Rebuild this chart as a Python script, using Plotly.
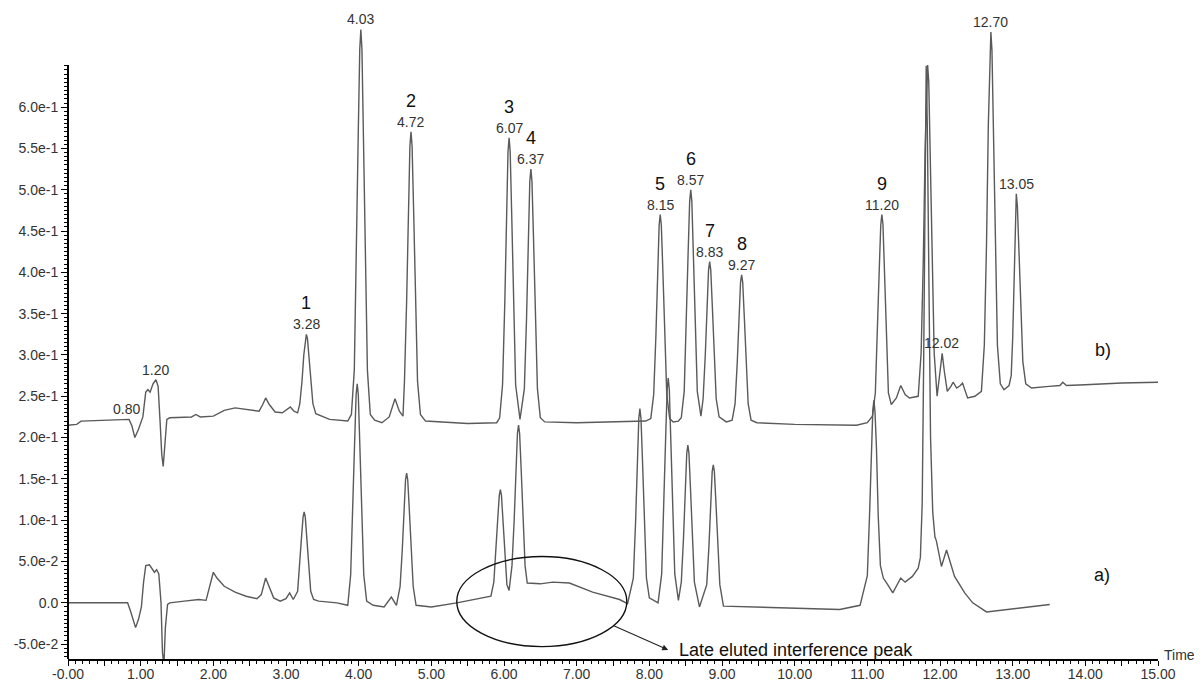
import plotly.graph_objects as go

# ---------------- data ----------------
# trace b) (upper chromatogram): time (min) and signal
b_time = [0.00, 0.12, 0.18, 0.50, 0.84, 0.88, 0.92, 0.97, 1.03, 1.07,
          1.10, 1.13, 1.17, 1.21, 1.24, 1.27, 1.29, 1.31, 1.33, 1.36,
          1.40, 1.70, 1.76, 1.82, 2.00, 2.15, 2.30, 2.50, 2.63, 2.68,
          2.72, 2.77, 2.85, 2.95, 3.02, 3.06, 3.11, 3.16, 3.19, 3.22,
          3.245, 3.265, 3.28, 3.295, 3.315, 3.34, 3.37, 3.41, 3.60, 3.85,
          3.90, 3.94, 3.97, 3.995, 4.015, 4.03, 4.045, 4.065, 4.09, 4.12,
          4.16, 4.22, 4.32, 4.42, 4.50, 4.56, 4.61, 4.63, 4.66, 4.685,
          4.705, 4.72, 4.735, 4.755, 4.78, 4.81, 4.85, 4.92, 5.50, 5.90,
          5.94, 5.98, 6.01, 6.035, 6.055, 6.07, 6.085, 6.105, 6.13, 6.16,
          6.22, 6.28, 6.31, 6.335, 6.355, 6.37, 6.385, 6.405, 6.43, 6.46,
          6.50, 6.56, 7.00, 7.50, 7.95, 8.02, 8.06, 8.09, 8.115, 8.135,
          8.15, 8.165, 8.185, 8.21, 8.24, 8.28, 8.33, 8.40, 8.44, 8.48,
          8.51, 8.535, 8.555, 8.57, 8.585, 8.605, 8.63, 8.66, 8.71, 8.74,
          8.77, 8.795, 8.815, 8.83, 8.845, 8.865, 8.89, 8.92, 8.96, 9.06,
          9.14, 9.18, 9.21, 9.235, 9.255, 9.27, 9.285, 9.305, 9.33, 9.36,
          9.40, 9.48, 10.00, 10.50, 10.85, 11.00, 11.07, 11.11, 11.14, 11.165,
          11.185, 11.20, 11.215, 11.235, 11.26, 11.29, 11.33, 11.40, 11.46, 11.52,
          11.58, 11.70, 11.74, 11.77, 11.795, 11.815, 11.83, 11.845, 11.865, 11.89,
          11.92, 11.96, 12.00, 12.03, 12.06, 12.10, 12.15, 12.18, 12.23, 12.28,
          12.31, 12.38, 12.48, 12.57, 12.61, 12.64, 12.665, 12.685, 12.70, 12.715,
          12.735, 12.76, 12.79, 12.83, 12.88, 12.95, 12.98, 13.00, 13.025, 13.04,
          13.05, 13.065, 13.085, 13.11, 13.14, 13.18, 13.26, 13.50, 13.65, 13.69,
          13.74, 14.00, 14.50, 15.00]
b_signal = [0.215, 0.216, 0.220, 0.221, 0.222, 0.214, 0.200, 0.210, 0.225, 0.255,
            0.258, 0.255, 0.265, 0.270, 0.262, 0.215, 0.180, 0.165, 0.190, 0.222,
            0.224, 0.225, 0.228, 0.225, 0.226, 0.233, 0.236, 0.234, 0.232, 0.240,
            0.248, 0.240, 0.231, 0.230, 0.234, 0.237, 0.232, 0.230, 0.241, 0.268,
            0.300, 0.320, 0.325, 0.320, 0.300, 0.268, 0.241, 0.229, 0.222, 0.220,
            0.228, 0.282, 0.415, 0.571, 0.670, 0.694, 0.670, 0.571, 0.415, 0.282,
            0.228, 0.221, 0.218, 0.225, 0.247, 0.232, 0.226, 0.268, 0.365, 0.480,
            0.553, 0.570, 0.553, 0.480, 0.365, 0.268, 0.228, 0.220, 0.217, 0.218,
            0.224, 0.264, 0.360, 0.474, 0.546, 0.563, 0.546, 0.474, 0.360, 0.264,
            0.222, 0.259, 0.344, 0.445, 0.510, 0.525, 0.510, 0.445, 0.344, 0.259,
            0.224, 0.219, 0.218, 0.219, 0.220, 0.223, 0.252, 0.322, 0.405, 0.457,
            0.470, 0.457, 0.405, 0.322, 0.252, 0.223, 0.219, 0.220, 0.224, 0.256,
            0.335, 0.427, 0.486, 0.500, 0.486, 0.427, 0.335, 0.256, 0.226, 0.247,
            0.300, 0.363, 0.403, 0.413, 0.403, 0.363, 0.300, 0.247, 0.225, 0.219,
            0.221, 0.241, 0.291, 0.350, 0.388, 0.397, 0.388, 0.350, 0.291, 0.241,
            0.221, 0.218, 0.216, 0.215, 0.215, 0.218, 0.226, 0.254, 0.324, 0.406,
            0.458, 0.470, 0.458, 0.406, 0.324, 0.254, 0.240, 0.248, 0.263, 0.252,
            0.248, 0.250, 0.302, 0.414, 0.547, 0.631, 0.651, 0.631, 0.547, 0.414,
            0.302, 0.250, 0.280, 0.302, 0.280, 0.256, 0.262, 0.267, 0.260, 0.263,
            0.266, 0.248, 0.250, 0.256, 0.312, 0.434, 0.578, 0.669, 0.691, 0.669,
            0.578, 0.434, 0.312, 0.265, 0.258, 0.263, 0.275, 0.320, 0.420, 0.480,
            0.495, 0.480, 0.434, 0.358, 0.292, 0.265, 0.260, 0.262, 0.263, 0.267,
            0.263, 0.264, 0.266, 0.267]

# trace a) (lower chromatogram)
a_time = [0.00, 0.82, 0.86, 0.93, 0.97, 1.01, 1.04, 1.07, 1.12, 1.16,
          1.19, 1.22, 1.25, 1.28, 1.30, 1.32, 1.34, 1.37, 1.40, 1.60,
          1.80, 1.90, 1.95, 2.00, 2.05, 2.15, 2.30, 2.45, 2.60, 2.66,
          2.72, 2.77, 2.83, 2.92, 3.00, 3.05, 3.10, 3.16, 3.19, 3.215,
          3.235, 3.25, 3.265, 3.285, 3.31, 3.34, 3.38, 3.45, 3.70, 3.85,
          3.89, 3.92, 3.945, 3.965, 3.98, 3.995, 4.015, 4.04, 4.07, 4.11,
          4.20, 4.35, 4.45, 4.52, 4.57, 4.60, 4.625, 4.645, 4.66, 4.675,
          4.695, 4.72, 4.75, 4.79, 5.00, 5.35, 5.82, 5.86, 5.89, 5.915,
          5.935, 5.95, 5.965, 5.985, 6.01, 6.04, 6.07, 6.11, 6.14, 6.165,
          6.185, 6.20, 6.215, 6.235, 6.26, 6.29, 6.32, 6.50, 6.67, 6.90,
          7.22, 7.49, 7.59, 7.70, 7.78, 7.81, 7.835, 7.855, 7.87, 7.885,
          7.905, 7.93, 7.96, 8.00, 8.12, 8.17, 8.20, 8.225, 8.245, 8.26,
          8.275, 8.295, 8.32, 8.35, 8.40, 8.44, 8.47, 8.495, 8.515, 8.53,
          8.545, 8.565, 8.59, 8.62, 8.69, 8.79, 8.82, 8.845, 8.865, 8.88,
          8.895, 8.915, 8.94, 8.97, 9.02, 10.00, 10.62, 10.90, 11.00, 11.03,
          11.055, 11.075, 11.09, 11.105, 11.125, 11.15, 11.18, 11.22, 11.28, 11.35,
          11.46, 11.52, 11.62, 11.70, 11.73, 11.755, 11.775, 11.795, 11.81, 11.825,
          11.845, 11.87, 11.90, 11.93, 11.95, 12.02, 12.09, 12.17, 12.20, 12.34,
          12.45, 12.64, 12.92, 13.51]
a_signal = [0.000, 0.000, -0.010, -0.030, -0.020, -0.005, 0.025, 0.045, 0.046, 0.040,
            0.037, 0.040, 0.035, 0.000, -0.060, -0.075, -0.030, -0.002, 0.000, 0.002,
            0.004, 0.003, 0.020, 0.037, 0.030, 0.020, 0.013, 0.008, 0.005, 0.010,
            0.030, 0.018, 0.006, 0.002, 0.005, 0.012, 0.004, 0.014, 0.045, 0.081,
            0.104, 0.110, 0.104, 0.081, 0.045, 0.014, 0.004, 0.002, 0.000, -0.003,
            0.034, 0.109, 0.196, 0.252, 0.265, 0.252, 0.196, 0.109, 0.034, 0.002,
            -0.003, -0.005, 0.007, -0.003, 0.020, 0.064, 0.116, 0.149, 0.157, 0.149,
            0.116, 0.064, 0.020, -0.003, -0.005, 0.000, 0.008, 0.025, 0.061, 0.103,
            0.130, 0.137, 0.130, 0.103, 0.061, 0.022, 0.015, 0.045, 0.100, 0.164,
            0.205, 0.215, 0.205, 0.164, 0.100, 0.045, 0.024, 0.023, 0.025, 0.024,
            0.013, 0.006, 0.004, -0.001, 0.030, 0.096, 0.174, 0.223, 0.235, 0.223,
            0.174, 0.096, 0.030, 0.006, 0.000, 0.035, 0.112, 0.201, 0.258, 0.272,
            0.258, 0.201, 0.112, 0.035, 0.003, 0.025, 0.078, 0.141, 0.181, 0.191,
            0.181, 0.141, 0.078, 0.025, -0.005, 0.022, 0.068, 0.124, 0.159, 0.167,
            0.159, 0.124, 0.068, 0.022, -0.004, -0.007, -0.008, -0.003, 0.033, 0.105,
            0.189, 0.232, 0.245, 0.232, 0.189, 0.105, 0.045, 0.030, 0.022, 0.012,
            0.030, 0.025, 0.032, 0.042, 0.055, 0.120, 0.290, 0.530, 0.650, 0.580,
            0.400, 0.200, 0.110, 0.080, 0.075, 0.044, 0.064, 0.040, 0.032, 0.012,
            0.000, -0.011, -0.008, -0.002]

# retention-time labels on trace b)
rt_labels = ["0.80", "1.20", "3.28", "4.03", "4.72", "6.07", "6.37", "8.15", "8.57", "8.83", "9.27",
             "11.20", "12.02", "12.70", "13.05"]
# compound numbers and the retention times they sit above
compound_ids = ["1", "2", "3", "4", "5", "6", "7", "8", "9"]
compound_rts = ["3.28", "4.72", "6.07", "6.37", "8.15", "8.57", "8.83", "9.27", "11.20"]

x_tick_values = [i * 0.5 for i in range(31)]
x_tick_labels = ["-0.00", "", "1.00", "", "2.00", "", "3.00", "", "4.00", "", "5.00", "", "6.00", "",
                 "7.00", "", "8.00", "", "9.00", "", "10.00", "", "11.00", "", "12.00", "", "13.00", "",
                 "14.00", "", "15.00"]
y_tick_values = [-0.05, -0.025, 0.0, 0.025, 0.05, 0.075, 0.10, 0.125, 0.15, 0.175, 0.20, 0.225, 0.25,
                 0.275, 0.30, 0.325, 0.35, 0.375, 0.40, 0.425, 0.45, 0.475, 0.50, 0.525, 0.55, 0.575,
                 0.60, 0.625, 0.65]
y_tick_labels = ["-5.0e-2", "", "0.0", "", "5.0e-2", "", "1.0e-1", "", "1.5e-1", "", "2.0e-1", "",
                 "2.5e-1", "", "3.0e-1", "", "3.5e-1", "", "4.0e-1", "", "4.5e-1", "", "5.0e-1", "",
                 "5.5e-1", "", "6.0e-1", "", ""]

assert len(a_time) == len(a_signal) and len(b_time) == len(b_signal)

# ---------------- figure ----------------
FONT = "Arial, 'Liberation Sans', sans-serif"
LINE_COLOR = "#5a5a5a"
Y_MIN, Y_AXIS_TOP, Y_MAX = -0.068, 0.651, 0.720

fig = go.Figure()
fig.add_trace(go.Scatter(x=a_time, y=a_signal, mode="lines",
                         line=dict(color=LINE_COLOR, width=1.4), hoverinfo="skip"))
fig.add_trace(go.Scatter(x=b_time, y=b_signal, mode="lines",
                         line=dict(color=LINE_COLOR, width=1.4), hoverinfo="skip"))


def apex(label):
    t = float(label)
    near = [i for i, tt in enumerate(b_time) if abs(tt - t) <= 0.05]
    best = max(near, key=lambda i: b_signal[i])
    return t, b_signal[best]


annotations = []
for lab in rt_labels:
    t, v = apex(lab)
    annotations.append(dict(x=t, y=v, xref="x", yref="y", text=lab, showarrow=False,
                            xanchor="center", yanchor="bottom", yshift=0,
                            font=dict(family=FONT, size=14, color="#333333")))
for cid, rt in zip(compound_ids, compound_rts):
    t, v = apex(rt)
    annotations.append(dict(x=t, y=v, xref="x", yref="y", text=cid, showarrow=False,
                            xanchor="center", yanchor="bottom", yshift=19,
                            font=dict(family=FONT, size=18, color="#111111")))

# trace labels
annotations.append(dict(x=14.24, y=0.306, xref="x", yref="y", text="b)", showarrow=False,
                        font=dict(family=FONT, size=18, color="#111111")))
annotations.append(dict(x=14.23, y=0.034, xref="x", yref="y", text="a)", showarrow=False,
                        font=dict(family=FONT, size=18, color="#111111")))
# axis title at the right end of the time axis
annotations.append(dict(x=1.036, y=0.006, xref="paper", yref="paper", text="Time", showarrow=False,
                        xanchor="right", yanchor="middle",
                        font=dict(family=FONT, size=14, color="#333333")))
# arrow from the ellipse to the note
annotations.append(dict(x=8.26, y=-0.057, ax=7.49, ay=-0.027, xref="x", yref="y", axref="x", ayref="y",
                        text="", showarrow=True, arrowhead=2, arrowsize=1.1, arrowwidth=1.1,
                        arrowcolor="#222222"))
annotations.append(dict(x=8.38, y=-0.057, xref="x", yref="y", text="Late eluted interference peak",
                        showarrow=False, xanchor="left", yanchor="middle",
                        font=dict(family=FONT, size=18, color="#111111")))

shapes = [
    # ellipse around the interference
    dict(type="circle", xref="x", yref="y", x0=5.35, x1=7.69, y0=-0.053, y1=0.056,
         line=dict(color="#111111", width=1.4)),
    # y axis line (stops at the last tick, peaks rise above it)
    dict(type="line", xref="paper", yref="paper", x0=0, x1=0, y0=0,
         y1=(Y_AXIS_TOP - Y_MIN) / (Y_MAX - Y_MIN),
         line=dict(color="#000000", width=2)),
]

# the page adds an 8 px body margin, so the figure is 8 px smaller than the window
fig.update_layout(
    width=1194, height=674,
    margin=dict(l=60, r=44, t=0, b=23),
    paper_bgcolor="white", plot_bgcolor="white",
    showlegend=False,
    annotations=annotations,
    shapes=shapes,
    xaxis=dict(range=[0, 15], showgrid=False, zeroline=False, showline=True, automargin=False,
               linecolor="#000000", linewidth=2,
               tickmode="array", tickvals=x_tick_values, ticktext=x_tick_labels,
               ticks="outside", ticklen=5, tickwidth=1.3, tickcolor="#000000",
               ticklabelstandoff=-4,
               tickfont=dict(family=FONT, size=14, color="#333333"),
               minor=dict(dtick=0.1, tick0=0, ticks="outside", ticklen=3, tickwidth=1, tickcolor="#000000"),
               fixedrange=True),
    yaxis=dict(range=[Y_MIN, Y_MAX], showgrid=False, zeroline=False, showline=False, automargin=False,
               tickmode="array", tickvals=y_tick_values, ticktext=y_tick_labels,
               ticks="outside", ticklen=6, tickwidth=1.3, tickcolor="#000000",
               tickfont=dict(family=FONT, size=14, color="#333333"),
               minor=dict(tickmode="array",
                          tickvals=[round(-0.065 + 0.005 * i, 3) for i in range(144)],
                          ticks="outside", ticklen=3, tickwidth=1, tickcolor="#000000"),
               fixedrange=True),
)

fig.write_html("out.html")
